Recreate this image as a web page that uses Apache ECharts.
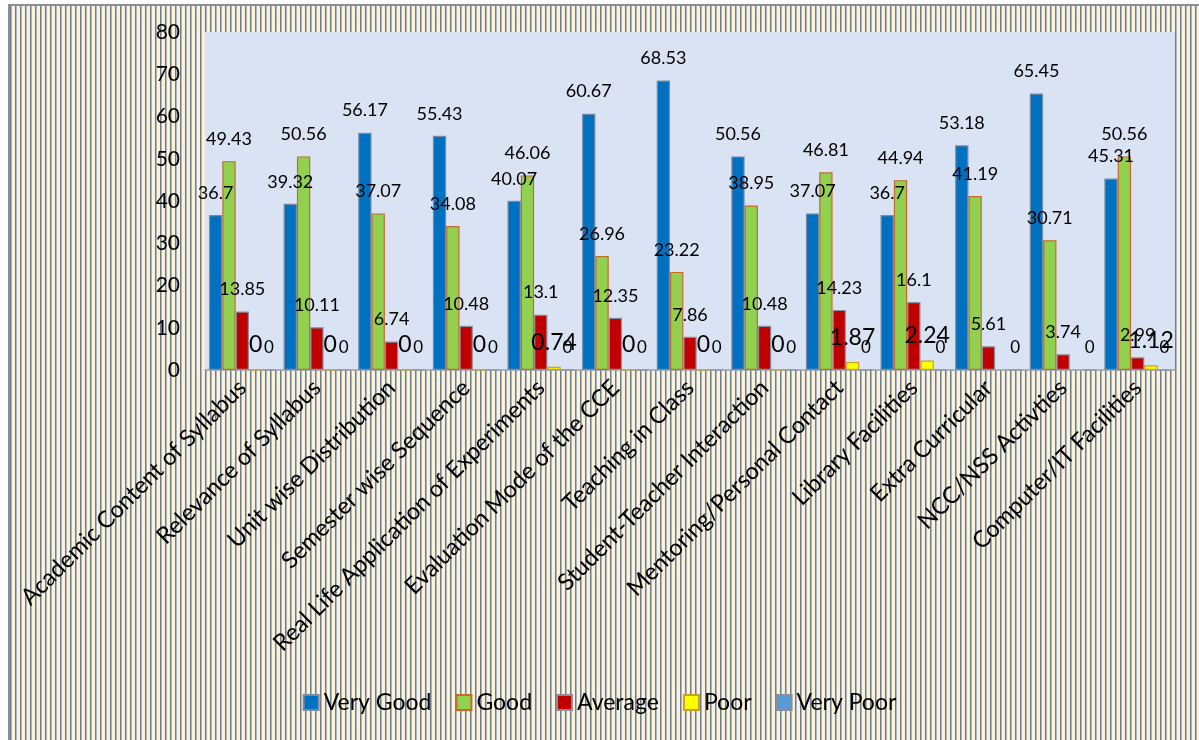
<!DOCTYPE html>
<html>
<head>
<meta charset="utf-8">
<script src="https://cdn.jsdelivr.net/npm/echarts@6/dist/echarts.min.js"></script>
<style>
  html, body { margin: 0; padding: 0; background: #ffffff; }
  #wrap { position: relative; width: 1199px; height: 740px; overflow: hidden; }
  #stripes {
    position: absolute; left: 8px; top: 4px; right: 0; bottom: 0;
    border-top: 2px solid #8a8f99; border-left: 2px solid #8a8f99;
    background: repeating-linear-gradient(90deg,
      #6f7d93 0px, #6f7d93 1px,
      #a9b6c0 1px, #a9b6c0 2px,
      #fdf4d2 2px, #fdf4d2 4px,
      #fbeee0 4px, #fbeee0 5px);
  }
  #chart { position: absolute; left: 0; top: 0; width: 1199px; height: 740px; }
</style>
</head>
<body>
<div id="wrap">
  <div id="stripes"></div>
  <div id="chart"></div>
</div>
<script>
// Feedback categories
const categories = [
  'Academic Content of Syllabus',
  'Relevance of Syllabus',
  'Unit wise Distribution',
  'Semester wise Sequence',
  'Real Life Application of Experiments',
  'Evaluation Mode of the CCE',
  'Teaching in Class',
  'Student-Teacher Interaction',
  'Mentoring/Personal Contact',
  'Library Facilities',
  'Extra Curricular',
  'NCC/NSS Activties',
  'Computer/IT Facilities'
];

// Percentage of responses per rating
const veryGood = [36.7, 39.32, 56.17, 55.43, 40.07, 60.67, 68.53, 50.56, 37.07, 36.7, 53.18, 65.45, 45.31];
const good     = [49.43, 50.56, 37.07, 34.08, 46.06, 26.96, 23.22, 38.95, 46.81, 44.94, 41.19, 30.71, 50.56];
const average  = [13.85, 10.11, 6.74, 10.48, 13.1, 12.35, 7.86, 10.48, 14.23, 16.1, 5.61, 3.74, 2.99];
const poor     = [0, 0, 0, 0, 0.74, 0, 0, 0, 1.87, 2.24, null, null, 1.12];
const veryPoor = [0, 0, 0, 0, 0, 0, 0, 0, 0, 0, 0, 0, 0];

const yTicks = { min: 0, max: 80, step: 10 };

const FONT = 'Lato, "Open Sans", sans-serif';

function barSeries(name, data, fill, border, labelSize) {
  return {
    name: name,
    type: 'bar',
    data: data,
    barGap: '0%',
    barCategoryGap: '10.7%',
    itemStyle: { color: fill, borderColor: border, borderWidth: 1.2 },
    label: {
      show: true,
      position: 'top',
      distance: 13,
      color: '#000',
      fontFamily: FONT,
      fontSize: labelSize
    }
  };
}

const chart = echarts.init(document.getElementById('chart'), null, { renderer: 'canvas' });
chart.setOption({
  backgroundColor: 'transparent',
  animation: false,
  textStyle: { fontFamily: FONT },
  grid: {
    left: 205, top: 32, right: 24, bottom: 370,
    show: true, backgroundColor: '#dae3f3', borderWidth: 0
  },
  legend: {
    bottom: 21,
    left: 'center',
    itemWidth: 15,
    itemHeight: 15,
    itemGap: 24,
    icon: 'rect',
    textStyle: { fontSize: 23, color: '#000', fontFamily: FONT },
    data: ['Very Good', 'Good', 'Average', 'Poor', 'Very Poor']
  },
  xAxis: {
    type: 'category',
    data: categories,
    axisLine: { show: true, lineStyle: { color: '#9aa0aa', width: 1.5 } },
    axisTick: { show: false },
    axisLabel: {
      interval: 0, rotate: 45, margin: 14,
      fontSize: 23.5, color: '#000', fontFamily: FONT
    }
  },
  yAxis: {
    type: 'value',
    min: yTicks.min, max: yTicks.max, interval: yTicks.step,
    axisLine: { show: false },
    axisTick: { show: false },
    splitLine: { show: false },
    axisLabel: { fontSize: 21, color: '#000', margin: 25, fontFamily: FONT }
  },
  series: [
    barSeries('Very Good', veryGood, '#0070c0', '#7b8aa3', 18),
    barSeries('Good', good, '#92d050', '#c46a2a', 18),
    barSeries('Average', average, '#c00000', '#8a8f99', 18),
    barSeries('Poor', poor, '#ffff00', '#c9a227', 23),
    barSeries('Very Poor', veryPoor, '#5b9bd5', '#8a8f99', 17)
  ]
});
</script>
</body>
</html>
